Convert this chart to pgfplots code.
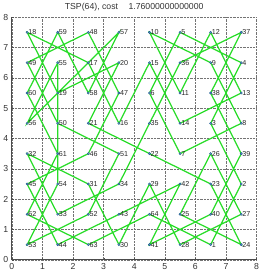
\documentclass[border=0pt]{standalone}
\usepackage{pgfplots}
\pgfplotsset{compat=1.18}
\usepackage{pgfplotstable}
\usepackage{fontspec}
\setmainfont{Liberation Sans}
\definecolor{tourgreen}{RGB}{40,220,40}
\definecolor{ptblue}{RGB}{30,90,150}
\pgfplotstableread{
x y lab
6.5 0.5 1
7.5 2.5 2
6.5 4.5 3
7.5 6.5 4
5.5 7.5 5
4.5 5.5 6
5.5 3.5 7
7.5 4.5 8
6.5 6.5 9
4.5 7.5 10
5.5 5.5 11
6.5 7.5 12
7.5 5.5 13
5.5 4.5 14
4.5 6.5 15
3.5 4.5 16
2.5 6.5 17
0.5 7.5 18
1.5 5.5 19
3.5 6.5 20
2.5 4.5 21
4.5 3.5 22
6.5 2.5 23
7.5 0.5 24
5.5 1.5 25
6.5 3.5 26
7.5 1.5 27
5.5 0.5 28
4.5 2.5 29
3.5 0.5 30
2.5 2.5 31
0.5 3.5 32
1.5 1.5 33
3.5 2.5 34
4.5 4.5 35
5.5 6.5 36
7.5 7.5 37
6.5 5.5 38
7.5 3.5 39
6.5 1.5 40
4.5 0.5 41
5.5 2.5 42
3.5 1.5 43
1.5 0.5 44
0.5 2.5 45
2.5 3.5 46
3.5 5.5 47
2.5 7.5 48
0.5 6.5 49
1.5 4.5 50
3.5 3.5 51
2.5 1.5 52
0.5 0.5 53
1.5 2.5 54
1.5 6.5 55
0.5 4.5 56
3.5 7.5 57
2.5 5.5 58
1.5 7.5 59
0.5 5.5 60
1.5 3.5 61
0.5 1.5 62
2.5 0.5 63
4.5 1.5 64
6.5 0.5 1
}\tour
\begin{document}
\begin{tikzpicture}
\begin{axis}[
  scale only axis, width=239pt, height=237pt,
  xmin=0, xmax=8, ymin=0, ymax=8,
  xtick={0,...,8}, ytick={0,...,8},
  axis x line*=bottom, axis y line*=left,
  axis line style={black!70, line width=0.8pt, -},
  tick style={black!70},
  major tick length=2pt,
  tick align=inside,
  grid=major,
  grid style={black!55, densely dotted, line width=0.4pt},
  tick label style={font=\fontsize{8.5}{9}\selectfont, text=black!80},
  /pgf/number format/assume math mode=true,
  title={TSP(64), cost\hspace{1.2em}1.76000000000000},
  title style={font=\fontsize{8.5}{9}\selectfont, text=black!80, yshift=-4pt},
  clip=false,
]
\addplot[tourgreen, line width=1.2pt, mark=none] table[x=x, y=y] {\tour};
\addplot[only marks, mark=*, mark size=1.1pt, mark options={fill=ptblue!60!white, draw=ptblue},
  skip coords between index={64}{65},
  nodes near coords, point meta=explicit symbolic,
  nodes near coords style={anchor=west, xshift=0pt, font=\fontsize{7}{8}\selectfont, text=black!85, inner sep=1pt}]
  table[x=x, y=y, meta=lab] {\tour};
\end{axis}
\end{tikzpicture}
\end{document}
